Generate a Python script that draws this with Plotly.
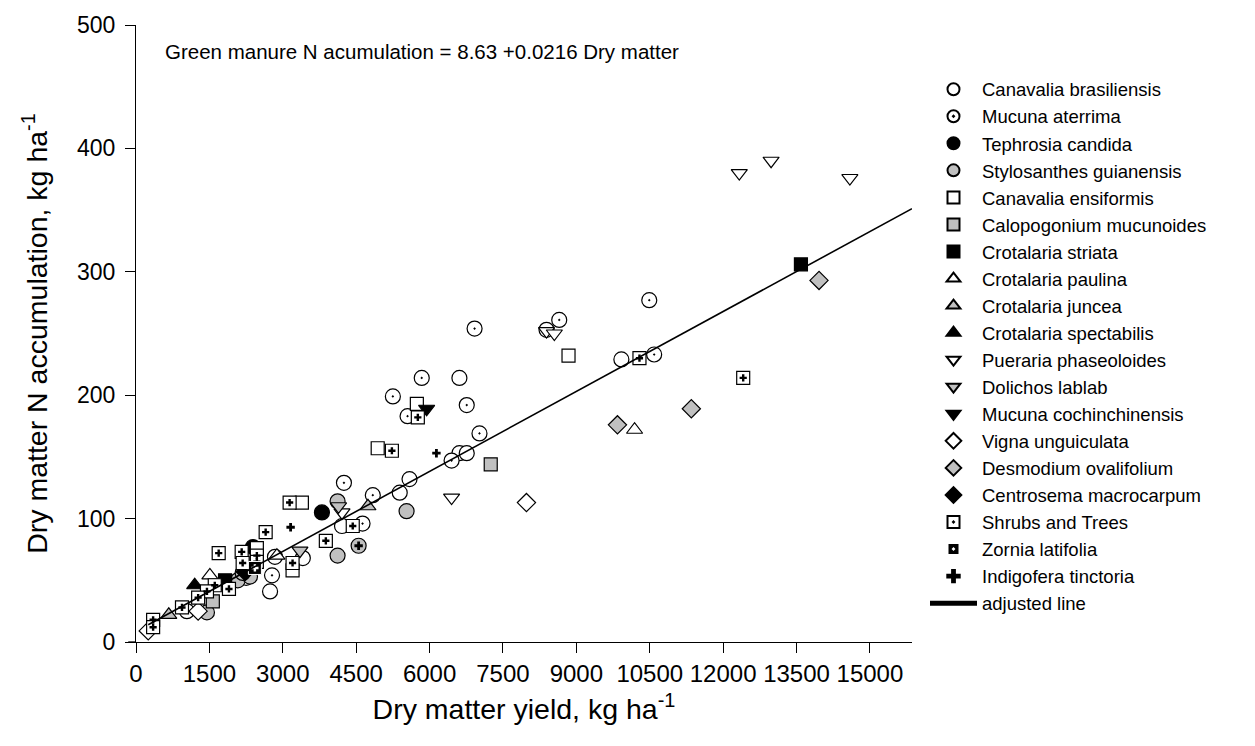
import plotly.graph_objects as go

# Dry matter yield (kg/ha) and N accumulation (kg/ha) per green-manure species
canavalia_bras_x = [8390, 9920, 6610, 6610, 6760, 5590, 5390, 4210, 2840, 2740, 3410, 2250, 1040]
canavalia_bras_y = [253, 229, 214, 153, 153, 132, 121, 94, 69, 41, 68, 52, 25]

mucuna_aterrima_x = [10490, 8650, 6920, 5840, 5250, 6760, 5550, 7020, 6450, 10590, 4250, 4840, 4630, 2780]
mucuna_aterrima_y = [277, 261, 254, 214, 199, 192, 183, 169, 147, 233, 129, 119, 96, 54]

tephrosia_x = [3800, 2390]
tephrosia_y = [105, 77]

stylosanthes_x = [4120, 5530, 4120, 4550, 2080, 2330, 2180, 1450]
stylosanthes_y = [114, 106, 70, 78, 50, 53, 56, 24]

canavalia_ens_x = [8840, 5740, 4940, 3390, 2470, 3200, 1820]
canavalia_ens_y = [232, 193, 157, 113, 76, 58, 48]

calopogonium_x = [7250, 1570]
calopogonium_y = [144, 33]

crot_striata_x = [13590, 1820]
crot_striata_y = [306, 50]

crot_paulina_x = [10190, 1510, 2880]
crot_paulina_y = [172, 54, 70]

crot_juncea_x = [4740, 670]
crot_juncea_y = [110, 22]

crot_spectabilis_x = [1200]
crot_spectabilis_y = [46]

pueraria_x = [12330, 12980, 14590, 8390, 8550, 6450, 4210]
pueraria_y = [380, 390, 376, 252, 250, 117, 105]

dolichos_x = [4140, 3350]
dolichos_y = [110, 74]

mucuna_cochin_x = [5940]
mucuna_cochin_y = [189]

vigna_x = [7980, 1270, 250]
vigna_y = [113, 25, 9]

desmodium_x = [13960, 11350, 9840]
desmodium_y = [293, 189, 176]

centrosema_x = [2230]
centrosema_y = [57]

shrubs_x = [12410, 10290, 5760, 5230, 3140, 2650, 3880, 1690, 2160, 4430, 3200, 2180,
            1900, 1610, 1450, 1270, 940, 350, 350, 2470, 2470]
shrubs_y = [214, 230, 182, 155, 113, 89, 82, 72, 73, 94, 64, 64,
            43, 46, 41, 36, 28, 18, 12, 70, 65]

zornia_x = [2430]
zornia_y = [60]

indigofera_x = [6140, 3160, 4550]
indigofera_y = [153, 93, 78]

# Fitted regression: N = 8.63 + 0.0216 * DM
intercept = 8.63
slope = 0.0216
fit_x = [250, 15860]

x_ticks = [0, 1500, 3000, 4500, 6000, 7500, 9000, 10500, 12000, 13500, 15000]
y_ticks = [0, 100, 200, 300, 400, 500]

GRAY = "#c0c0c0"
FONT = "Liberation Sans, Arial, sans-serif"

series = [
    ("Canavalia brasiliensis", canavalia_bras_x, canavalia_bras_y, "circle", "white", 15),
    ("Mucuna aterrima", mucuna_aterrima_x, mucuna_aterrima_y, "circle-dot", "white", 15),
    ("Tephrosia candida", tephrosia_x, tephrosia_y, "circle", "black", 15),
    ("Stylosanthes guianensis", stylosanthes_x, stylosanthes_y, "circle", GRAY, 15),
    ("Canavalia ensiformis", canavalia_ens_x, canavalia_ens_y, "square", "white", 13),
    ("Calopogonium mucunoides", calopogonium_x, calopogonium_y, "square", GRAY, 13),
    ("Crotalaria striata", crot_striata_x, crot_striata_y, "square", "black", 13),
    ("Crotalaria paulina", crot_paulina_x, crot_paulina_y, "triangle-up", "white", 14),
    ("Crotalaria juncea", crot_juncea_x, crot_juncea_y, "triangle-up", GRAY, 14),
    ("Crotalaria spectabilis", crot_spectabilis_x, crot_spectabilis_y, "triangle-up", "black", 14),
    ("Pueraria phaseoloides", pueraria_x, pueraria_y, "triangle-down", "white", 14),
    ("Dolichos lablab", dolichos_x, dolichos_y, "triangle-down", GRAY, 14),
    ("Mucuna cochinchinensis", mucuna_cochin_x, mucuna_cochin_y, "triangle-down", "black", 14),
    ("Vigna unguiculata", vigna_x, vigna_y, "diamond", "white", 14),
    ("Desmodium ovalifolium", desmodium_x, desmodium_y, "diamond", GRAY, 14),
    ("Centrosema macrocarpum", centrosema_x, centrosema_y, "diamond", "black", 14),
]

fig = go.Figure()

for name, xs, ys, sym, fill, size in series:
    fig.add_trace(go.Scatter(
        x=xs, y=ys, mode="markers", name=name,
        marker=dict(symbol=sym, size=size, color=fill,
                    line=dict(color="black", width=1.2)),
    ))

# Shrubs and trees: open square with a small plus in the middle
fig.add_trace(go.Scatter(
    x=shrubs_x, y=shrubs_y, mode="markers", name="Shrubs and Trees",
    legendgroup="shrubs",
    marker=dict(symbol="square-dot", size=13, color="white",
                line=dict(color="black", width=1.2)),
))
fig.add_trace(go.Scatter(
    x=shrubs_x, y=shrubs_y, mode="markers", showlegend=False,
    legendgroup="shrubs", hoverinfo="skip",
    marker=dict(symbol="cross", size=6, color="black", line=dict(width=0)),
))

# Zornia: filled square with a white plus
fig.add_trace(go.Scatter(
    x=zornia_x, y=zornia_y, mode="markers", name="Zornia latifolia",
    legendgroup="zornia",
    marker=dict(symbol="square-dot", size=13, color="black",
                line=dict(color="white", width=1)),
))
fig.add_trace(go.Scatter(
    x=zornia_x, y=zornia_y, mode="markers", showlegend=False,
    legendgroup="zornia", hoverinfo="skip",
    marker=dict(symbol="cross", size=6, color="white", line=dict(width=0)),
))

fig.add_trace(go.Scatter(
    x=indigofera_x, y=indigofera_y, mode="markers", name="Indigofera tinctoria",
    marker=dict(symbol="cross", size=7, color="black", line=dict(width=0)),
))

fig.add_trace(go.Scatter(
    x=fit_x, y=[intercept + slope * v for v in fit_x], mode="lines",
    name="adjusted line", line=dict(color="black", width=1.6),
))

fig.update_layout(
    width=1255, height=746,
    margin=dict(l=136, r=343, t=16, b=104),
    paper_bgcolor="white", plot_bgcolor="white",
    font=dict(family=FONT, color="black"),
    showlegend=True,
    legend=dict(
        x=(925 - 136) / 776, y=0.926, xanchor="left", yanchor="top",
        font=dict(size=18.5, family=FONT, color="black"),
        itemsizing="constant", itemwidth=47, bgcolor="rgba(0,0,0,0)",
        tracegroupgap=0,
    ),
    xaxis=dict(
        range=[0, 15860], tickvals=x_ticks, ticktext=[str(v) for v in x_ticks],
        showline=True, linecolor="black", linewidth=1.3,
        ticks="outside", ticklen=10, tickwidth=1.3, tickcolor="black",
        showgrid=False, zeroline=False,
        tickfont=dict(size=24, family=FONT),
        title=dict(text="Dry matter yield, kg ha<sup>-1</sup>",
                   font=dict(size=28.5, family=FONT), standoff=13),
    ),
    yaxis=dict(
        range=[0, 500], tickvals=y_ticks,
        showline=True, linecolor="black", linewidth=1.3,
        ticks="outside", ticklen=10, tickwidth=1.3, tickcolor="black",
        showgrid=False, zeroline=False, ticklabelstandoff=5,
        tickfont=dict(size=23, family=FONT),
        title=dict(text="Dry matter N accumulation, kg ha<sup>-1</sup>",
                   font=dict(size=28.5, family=FONT), standoff=20),
    ),
    annotations=[dict(
        text="Green manure N acumulation = 8.63 +0.0216 Dry matter",
        xref="paper", yref="paper", x=(163 - 136) / 776, y=(642 - 43) / 626,
        xanchor="left", yanchor="middle", showarrow=False,
        font=dict(size=20.5, family=FONT, color="black"),
    )],
    shapes=[dict(
        type="line", xref="paper", yref="paper", x0=-0.01, x1=0, y0=0, y1=0,
        line=dict(color="black", width=1.3),
    )],
)

fig.write_html("out.html")
